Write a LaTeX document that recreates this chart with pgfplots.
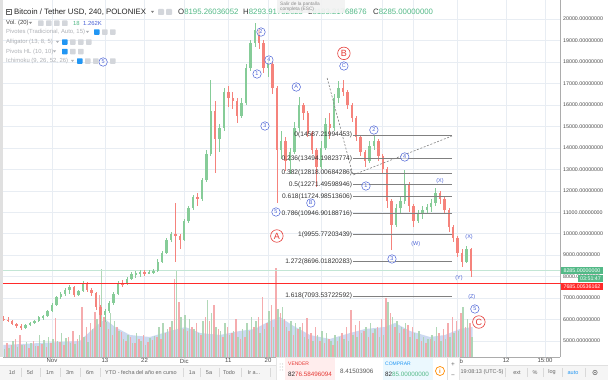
\documentclass[border=0pt]{standalone}
\usepackage{pgfplots}
\pgfplotsset{compat=1.18}
\usepackage{pgfplotstable}
\usepackage{fontspec}
\setmainfont{Liberation Sans}
\definecolor{cg}{HTML}{86CC98}
\definecolor{cr}{HTML}{F5837C}
\definecolor{vg}{HTML}{A9D4B1}
\definecolor{vr}{HTML}{F4A3A6}
\definecolor{vb}{HTML}{CCD9F0}
\definecolor{gridc}{HTML}{E8EDF3}
\definecolor{wb}{HTML}{4A62D6}
\definecolor{rc}{HTML}{E53935}
\definecolor{fibc}{HTML}{808080}
\definecolor{txt}{HTML}{4A4A4A}
\definecolor{lg}{HTML}{AEB1B6}
\definecolor{tagg}{HTML}{53B987}
\definecolor{tagr}{HTML}{FF2A2A}
\definecolor{icg}{HTML}{D3D6DB}
\definecolor{icb}{HTML}{2196F3}
\tikzset{
  wl/.style={draw=wb, circle, line width=0.5pt, inner sep=0pt, minimum size=8.5pt, text=wb, fill=white, fill opacity=0.6, text opacity=1, font=\fontsize{5.5}{6}\selectfont},
  wt/.style={text=wb, inner sep=0pt, font=\fontsize{5.5}{6}\selectfont},
  rl/.style={draw=rc, circle, line width=0.6pt, inner sep=0pt, minimum size=12.5pt, text=rc, font=\fontsize{9}{10}\selectfont},
  fl/.style={anchor=east, inner sep=0pt, text=black!80, font=\fontsize{6.6}{7}\selectfont},
}

\pgfplotstableread{
d o h l c
-6 5600 5800 5550 5750
-5 5750 5900 5700 5850
-4 5850 6000 5800 5950
-3 5950 6150 5900 6100
-2 6100 6200 6000 6150
-1 6150 6450 6100 6400
0 6400 6750 6350 6700
1 6700 7100 6650 7050
2 7050 7300 6950 7200
3 7200 7450 7100 7400
4 7400 7600 7200 7500
6 7150 7400 7100 7350
7 7350 7800 7300 7700
12 6200 6500 5900 6400
13 6400 6850 6300 6750
14 6750 7300 6700 7200
15 7200 7800 7150 7700
17 7650 8000 7600 7900
18 7900 8200 7850 8100
19 8100 8250 7950 8150
20 8150 8300 8000 8200
22 8150 8300 8100 8200
23 8200 8350 8100 8250
24 8250 8800 8200 8700
25 8700 9200 8650 9100
26 9100 9800 9050 9700
27 9700 10100 9600 10000
30 9700 10700 9650 10600
31 10600 11300 10500 11200
32 11200 11800 11100 11700
34 11600 12600 11500 12500
35 12500 13900 12400 13700
36 13700 17160 13600 15700
38 14400 15100 13800 14900
39 14900 16800 14800 16600
43 15500 16300 15400 16100
44 16100 17900 16000 17700
45 17700 19000 17600 18900
46 18900 19810 18700 19500
49 17700 18100 17300 17900
52 13900 14800 13500 14300
54 13400 14000 12800 13800
55 13800 15200 13700 14900
56 14900 16370 14800 16000
61 13100 14300 13000 14000
62 14000 15400 13900 15100
64 14900 16500 14800 16300
65 16300 17100 16100 16800
72 13400 14300 13300 14100
73 14100 14600 13900 14300
78 10400 11400 10300 11200
79 11200 11700 10900 11500
80 11500 12970 11400 12300
83 10600 11100 10500 10950
84 10950 11300 10700 11100
85 11100 11400 10900 11250
86 11250 11600 11000 11450
87 11450 12130 11300 11900
94 8700 9450 8650 9300
}\up

\pgfplotstableread{
d o h l c
-11 6050 6150 5950 6000
-10 6000 6100 5900 5950
-9 5950 6000 5750 5800
-8 5800 5850 5600 5700
-7 5700 5800 5500 5600
5 7500 7550 7050 7150
8 7700 7750 7300 7400
9 7400 7450 7100 7250
10 7250 7300 6450 6600
11 6600 6700 5650 6200
16 7700 7850 7500 7650
21 8200 8300 8050 8150
28 10000 11430 8700 9900
29 9900 10000 9300 9700
33 11700 11900 11300 11600
37 15700 16200 12830 14400
40 16600 16900 15900 16300
41 16300 16600 15800 16200
42 16200 16300 15160 15500
47 19500 19600 18600 18900
48 18900 19000 17500 17700
50 17900 18000 16500 16800
51 16800 16900 11430 13900
53 14300 14500 12900 13400
57 16000 16100 15300 15600
58 15600 15700 14500 14700
59 14700 14800 13700 13900
60 13900 14000 12180 13100
63 15100 15600 14400 14900
66 16800 17160 16400 16600
67 16600 16700 15800 16000
68 16000 16100 15200 15400
69 15400 15500 14300 14500
70 14500 14600 13600 13800
71 13800 13900 13100 13400
74 14300 14400 13400 13600
75 13600 13700 12800 13000
76 13000 13100 11200 11500
77 11500 11600 9240 10400
81 12300 12400 11000 11300
82 11300 11400 10310 10600
88 11900 12000 11400 11600
89 11600 11700 10900 11100
90 11100 11200 10100 10300
91 10300 10400 9600 9800
92 9800 9900 8900 9100
93 9100 9300 8450 8700
95 9300 9350 7980 8285
}\dn

\pgfplotstableread{
d r g
-11 10 8
-10 14 9
-9 12 16
-8 18 10
-7 22 12
-6 12 15
-5 9 14
-4 16 11
-3 11 22
-2 13 17
-1 10 20
0 14 18
1 39 16
2 15 24
3 12 19
4 20 14
5 26 13
6 18 22
7 50 20
8 30 15
9 34 28
10 45 38
11 62 88
12 40 35
13 28 44
14 22 36
15 30 26
16 25 18
17 16 22
18 20 14
19 14 24
20 18 16
21 22 12
22 15 19
23 17 21
24 20 30
25 18 34
26 24 28
27 30 36
28 78 87
29 55 40
30 28 42
31 26 38
32 30 28
33 34 24
34 22 36
35 40 57
36 36 44
37 52 30
38 28 26
39 20 34
40 30 22
41 24 26
42 38 20
43 18 28
44 20 34
45 26 40
46 30 36
47 40 24
48 60 28
49 34 46
50 52 30
51 89 48
52 44 50
53 38 30
54 26 36
55 22 34
56 28 30
57 34 20
58 39 18
59 24 16
60 30 22
61 16 26
62 14 24
63 18 16
64 12 22
65 16 20
66 24 18
67 30 16
68 47 22
69 32 20
70 36 24
71 26 30
72 20 34
73 24 28
74 30 20
75 38 22
76 59 55
77 44 40
78 30 36
79 24 30
80 28 34
81 32 20
82 30 24
83 18 26
84 16 20
85 14 18
86 18 22
87 16 30
88 24 16
89 28 18
90 34 20
91 40 24
92 36 26
93 44 50
94 30 38
95 34 20
}\vol

\pgfplotstableread{
d m
-11 12
-2.7 14
6.3 16
9.8 30
12 38
14.3 30
17.7 22
22.2 20
26.8 26
30.2 30
33.6 24
38.1 22
42.6 26
46 28
49.4 36
51.7 40
54.4 32
58.5 22
63 18
67.6 24
71 28
75.5 30
77.8 34
81.2 26
85.7 20
89.1 22
92.5 28
95.4 30
}\ma

\begin{document}
\begin{tikzpicture}
\path[use as bounding box] (0,0) rectangle (608pt,380pt);
\fill[white] (0,0) rectangle (608pt,380pt);

% grid and ticks
\begin{axis}[at={(3pt,23pt)}, anchor=south west, scale only axis,
  width=557pt, height=357pt,
  xmin=-11.1, xmax=115.2, ymin=4257, ymax=20885,
  axis x line*=bottom, axis y line*=right,
  axis line style={draw=gray!65, line width=0.6pt, -},
  ytick={5000,6000,7000,8000,9000,10000,11000,12000,13000,14000,15000,16000,17000,18000,19000,20000},
  scaled y ticks=false, scaled x ticks=false,
  xtick={0,12,21,30,40,49,61,75,82,92,103,111.8},
  xticklabels={Nov,13,22,Dic,11,20,2018,15,22,Feb,12,15:00},
  grid=major, grid style={draw=gridc, line width=0.5pt},
  major tick length=0pt,
  /pgf/number format/fixed, /pgf/number format/fixed zerofill,
  /pgf/number format/precision=8, /pgf/number format/1000 sep={},
  /pgf/number format/assume math mode=true,
  yticklabel style={font=\fontsize{5.3}{6}\selectfont, text=txt, anchor=west, inner sep=0pt, xshift=3pt},
  xticklabel style={font=\fontsize{6}{7}\selectfont, text=txt, inner sep=1pt, yshift=-0.5pt},
]
\addplot[draw=none, no markers] coordinates {(0,10000)};
\end{axis}

% volume
\begin{axis}[at={(3pt,23pt)}, anchor=south west, scale only axis,
  width=557pt, height=357pt, hide axis,
  xmin=-11.1, xmax=115.2, ymin=0, ymax=357]
\addplot[fill=vb, draw=none, no markers] table[x=d, y=m] {\ma} \closedcycle;
\addplot[ycomb, no markers, draw=vr, line width=1.5pt, opacity=0.9] table[x expr=\thisrow{d}-0.22, y=r] {\vol};
\addplot[ycomb, no markers, draw=vg, line width=1.5pt, opacity=0.9] table[x expr=\thisrow{d}+0.22, y=g] {\vol};
\end{axis}

% price
\begin{axis}[at={(3pt,23pt)}, anchor=south west, scale only axis,
  width=557pt, height=357pt, hide axis,
  xmin=-11.1, xmax=115.2, ymin=4257, ymax=20885]
\addplot[draw=tagg!35, no markers, line width=0.8pt] coordinates {(-11.1,8285) (115.2,8285)};
% wicks
\addplot[draw=none, no markers, error bars/.cd, y dir=both, y explicit, error mark=none,
  error bar style={draw=cg, line width=0.6pt, solid}]
  table[x=d, y expr={(\thisrow{h}+\thisrow{l})/2}, y error expr={(\thisrow{h}-\thisrow{l})/2}] {\up};
\addplot[draw=none, no markers, error bars/.cd, y dir=both, y explicit, error mark=none,
  error bar style={draw=cr, line width=0.6pt, solid}]
  table[x=d, y expr={(\thisrow{h}+\thisrow{l})/2}, y error expr={(\thisrow{h}-\thisrow{l})/2}] {\dn};
% bodies
\addplot[draw=none, no markers, error bars/.cd, y dir=both, y explicit, error mark=none,
  error bar style={draw=cg, line width=2.4pt, solid}]
  table[x=d, y expr={(\thisrow{o}+\thisrow{c})/2}, y error expr={(\thisrow{c}-\thisrow{o})/2}] {\up};
\addplot[draw=none, no markers, error bars/.cd, y dir=both, y explicit, error mark=none,
  error bar style={draw=cr, line width=2.4pt, solid}]
  table[x=d, y expr={(\thisrow{o}+\thisrow{c})/2}, y error expr={(\thisrow{o}-\thisrow{c})/2}] {\dn};
% fibonacci
\addplot[fibc, no markers, line width=1.1pt] coordinates {(68.25,14587.22) (90.7,14587.22)};
\addplot[fibc, no markers, line width=1.1pt] coordinates {(68.25,13494.20) (90.7,13494.20)};
\addplot[fibc, no markers, line width=1.1pt] coordinates {(68.25,12818.01) (90.7,12818.01)};
\addplot[fibc, no markers, line width=1.1pt] coordinates {(68.25,12271.50) (90.7,12271.50)};
\addplot[fibc, no markers, line width=1.1pt] coordinates {(68.25,11724.99) (90.7,11724.99)};
\addplot[fibc, no markers, line width=1.1pt] coordinates {(68.25,10946.90) (90.7,10946.90)};
\addplot[fibc, no markers, line width=1.1pt] coordinates {(68.25,9955.77) (90.7,9955.77)};
\addplot[fibc, no markers, line width=1.1pt] coordinates {(68.25,8696.02) (90.7,8696.02)};
\addplot[fibc, no markers, line width=1.1pt] coordinates {(68.25,7093.54) (90.7,7093.54)};
\addplot[gray, no markers, line width=0.6pt, dash pattern=on 2pt off 1.6pt] coordinates {(62.4,17252) (68.25,12734) (90.7,14551)};
\node[fl] at (axis cs:68.1,14587.22) {0(14587.21994453)};
\node[fl] at (axis cs:68.1,13494.20) {0.236(13494.19823774)};
\node[fl] at (axis cs:68.1,12818.01) {0.382(12818.00684286)};
\node[fl] at (axis cs:68.1,12271.50) {0.5(12271.49598946)};
\node[fl] at (axis cs:68.1,11724.99) {0.618(11724.98513606)};
\node[fl] at (axis cs:68.1,10946.90) {0.786(10946.90188716)};
\node[fl] at (axis cs:68.1,9955.77) {1(9955.77203439)};
\node[fl] at (axis cs:68.1,8696.02) {1.272(8696.01820283)};
\node[fl] at (axis cs:68.1,7093.54) {1.618(7093.53722592)};
% waves
\node[wl] at (axis cs:46.5,17438) {1};
\node[wl] at (axis cs:47.4,19394) {2};
\node[wl] at (axis cs:48.3,15016) {3};
\node[wl] at (axis cs:49.2,18090) {4};
\node[wl] at (axis cs:50.8,11011) {5};
\node[wl] at (axis cs:55.4,16833) {A};
\node[wl] at (axis cs:58.7,11430) {B};
\node[wl] at (axis cs:66.2,17811) {C};
\node[rl] at (axis cs:51.0,9893) {A};
\node[rl] at (axis cs:66.2,18400) {B};
\node[wl] at (axis cs:71.2,12222) {1};
\node[wl] at (axis cs:73.0,14830) {2};
\node[wl] at (axis cs:77.1,8822) {3};
\node[wl] at (axis cs:80.0,13573) {4};
\node[wt] at (axis cs:82.5,9520) {(W)};
\node[wt] at (axis cs:88.0,12455) {(X)};
\node[wt] at (axis cs:94.6,9847) {(X)};
\node[wt] at (axis cs:92.3,7937) {(Y)};
\node[wt] at (axis cs:95.2,7030) {(Z)};
\node[wl] at (axis cs:95.9,6493) {5};
\node[rl] at (axis cs:96.8,5887) {C};
\node[wl] at (axis cs:11.6,17997) {5};
\end{axis}

% overlays in pixel coordinates (y down)
\begin{scope}[shift={(0pt,380pt)}, x=1pt, y=-1pt]
\fill[black!12] (0,0) rectangle (3,357);
\fill[tagr] (3,282.6) rectangle (561,284.3);
% price tags
\fill[tagg] (561,267.5) rectangle (603,274.5);
\node[text=white, inner sep=0pt, font=\fontsize{5.3}{6}\selectfont] at (582,271) {8285.00000000};
\fill[tagg] (578,275) rectangle (603,282);
\node[text=white, inner sep=0pt, font=\fontsize{5.3}{6}\selectfont] at (590.5,278.5) {03:51:47};
\fill[tagr] (561,283) rectangle (603,290);
\node[text=white, inner sep=0pt, font=\fontsize{5.3}{6}\selectfont] at (582,286.5) {7685.00536162};
% header
\draw[black!60, line width=0.5pt] (6,9) rectangle (11,14); \draw[black!60, line width=0.5pt] (7.2,11.5) -- (9.8,11.5);
\node[anchor=west, inner sep=0pt, text=black!85, font=\fontsize{7.8}{9}\selectfont] at (14,12) {Bitcoin / Tether USD, 240, POLONIEX};
\fill[black!50] (151,11) -- (154,11) -- (152.5,13) -- cycle;
\fill[icg, rounded corners=0.8pt] (158,9) rectangle (164,15);
\fill[icg, rounded corners=0.8pt] (166,9) rectangle (172,15);
\node[anchor=west, inner sep=0pt, font=\fontsize{7.8}{9}\selectfont] at (178,12) {\textcolor{black!80}{O}\textcolor{tagg}{8195.26036052}};
\node[anchor=west, inner sep=0pt, font=\fontsize{7.8}{9}\selectfont] at (243,12) {\textcolor{black!80}{H}\textcolor{tagg}{8293.91752625}};
\node[anchor=west, inner sep=0pt, font=\fontsize{7.8}{9}\selectfont] at (308,12) {\textcolor{black!80}{L}\textcolor{tagg}{8183.21768676}};
\node[anchor=west, inner sep=0pt, font=\fontsize{7.8}{9}\selectfont] at (373,12) {\textcolor{black!80}{C}\textcolor{tagg}{8285.00000000}};
\fill[black!5, fill opacity=0.92] (277,-1) rectangle (345,13);
\node[anchor=north west, inner sep=0pt, align=left, text=black!45, font=\fontsize{4.8}{5.6}\selectfont] at (280,1.5) {Salir de la pantalla\\completa (ESC)};
% legend rows
\node[anchor=west, inner sep=0pt, text=black!75, font=\fontsize{5.9}{7}\selectfont] at (6,23) {Vol. (20)};
\fill[black!45] (29,22) -- (32,22) -- (30.5,24) -- cycle;
\foreach \xx in {38,46,54,62} {\fill[icg, rounded corners=0.6pt] (\xx,20.5) rectangle (\xx+5.5,26);}
\node[anchor=west, inner sep=0pt, text=tagg, font=\fontsize{5.9}{7}\selectfont] at (73,23) {18};
\node[anchor=west, inner sep=0pt, text=wb, font=\fontsize{5.9}{7}\selectfont] at (83,23) {1.262K};
\node[anchor=west, inner sep=0pt, text=lg, font=\fontsize{5.9}{7}\selectfont] at (6,32) {Pivotes (Tradicional, Auto, 15)};
\fill[lg] (86,31) -- (89,31) -- (87.5,33) -- cycle;
\fill[icb, rounded corners=0.6pt] (94,29.3) rectangle (99.5,34.8);
\fill[icg, rounded corners=0.6pt] (102,29.3) rectangle (107.5,34.8);
\fill[icg, rounded corners=0.6pt] (110,29.3) rectangle (115.5,34.8);
\node[anchor=west, inner sep=0pt, text=lg, font=\fontsize{5.9}{7}\selectfont] at (6,42) {Alligator (13, 8, 5)};
\fill[lg] (56,41) -- (59,41) -- (57.5,43) -- cycle;
\fill[icb, rounded corners=0.6pt] (62,39.3) rectangle (67.5,44.8);
\foreach \xx in {70,78,86} {\fill[icg, rounded corners=0.6pt] (\xx,39.3) rectangle (\xx+5.5,44.8);}
\node[anchor=west, inner sep=0pt, text=lg, font=\fontsize{5.9}{7}\selectfont] at (6,51.5) {Pivots HL (10, 10)};
\fill[lg] (53,50.5) -- (56,50.5) -- (54.5,52.5) -- cycle;
\fill[icb, rounded corners=0.6pt] (62,48.8) rectangle (67.5,54.3);
\foreach \xx in {70,78} {\fill[icg, rounded corners=0.6pt] (\xx,48.8) rectangle (\xx+5.5,54.3);}
\node[anchor=west, inner sep=0pt, text=lg, font=\fontsize{5.9}{7}\selectfont] at (6,61) {Ichimoku (9, 26, 52, 26)};
\fill[lg] (71,60) -- (74,60) -- (72.5,62) -- cycle;
\fill[icb, rounded corners=0.6pt] (77,58.3) rectangle (82.5,63.8);
\foreach \xx in {85,93,110} {\fill[icg, rounded corners=0.6pt] (\xx,58.3) rectangle (\xx+5.5,63.8);}
% bottom toolbar
\fill[black!4] (0,365) rectangle (608,380);
\draw[black!12, line width=0.4pt] (0,365) -- (608,365);
\foreach \xx/\tt in {12/1d,30/5d,50/1m,70/3m,90/6m,141/{YTD - fecha del año en curso},192/1a,209/5a,229/Todo,254/{Ir a...},517/ext,535/\%,552/log} {
  \node[inner sep=0pt, text=black!60, font=\fontsize{5.5}{6}\selectfont] at (\xx,372.5) {\tt};}
\node[inner sep=0pt, text=icb, font=\fontsize{5.5}{6}\selectfont] at (573,372.5) {auto};
\node[inner sep=0pt, text=black!60, font=\fontsize{5.5}{6}\selectfont] at (482,372.5) {19:08:13 (UTC-5)};
\draw[black!55, line width=0.6pt] (595,372.5) circle (2.2pt);
\fill[black!55] (595,372.5) circle (0.9pt);
\foreach \xx in {21,40,60,80,100,183,200,219,241,270,505,527,543,562,585} {\draw[black!15, line width=0.4pt] (\xx,368) -- (\xx,377);}
% popup
\fill[black!10] (276,357.5) rectangle (459.5,381);
\fill[white] (277,358.5) rectangle (458.5,381);
\fill[red!7] (285,358.5) rectangle (335,381);
\fill[cyan!8] (383,358.5) rectangle (433,381);
\foreach \yy in {364,367,370} {\fill[black!30] (280,\yy) circle (0.5pt); \fill[black!30] (282.5,\yy) circle (0.5pt);}
\node[anchor=west, inner sep=0pt, text=rc, font=\fontsize{5}{6}\selectfont] at (288,364) {VENDER};
\node[anchor=west, inner sep=0pt, font=\fontsize{6.3}{7}\selectfont] at (288,374) {\textcolor{black!85}{82}\textcolor{rc}{76.58496094}};
\node[anchor=west, inner sep=0pt, text=black!65, font=\fontsize{6.3}{7}\selectfont] at (340,371) {8.41503906};
\node[anchor=west, inner sep=0pt, text=icb, font=\fontsize{5}{6}\selectfont] at (385,364) {COMPRAR};
\node[anchor=west, inner sep=0pt, font=\fontsize{6.3}{7}\selectfont] at (385,374) {\textcolor{black!85}{82}\textcolor{tagg}{85.00000000}};
\draw[orange!90!yellow, line width=0.7pt] (440,371) circle (4.5pt);
\node[inner sep=0pt, text=orange!90!yellow, font=\bfseries\fontsize{6}{7}\selectfont] at (440,371) {i};
\draw[black!12, line width=0.4pt] (447,358.5) -- (447,381);
\node[inner sep=0pt, text=black!60, font=\fontsize{6.5}{7}\selectfont] at (453,365) {+};
\node[inner sep=0pt, text=black!60, font=\fontsize{6.5}{7}\selectfont] at (453,376.5) {\textminus};
\end{scope}
\end{tikzpicture}
\end{document}
